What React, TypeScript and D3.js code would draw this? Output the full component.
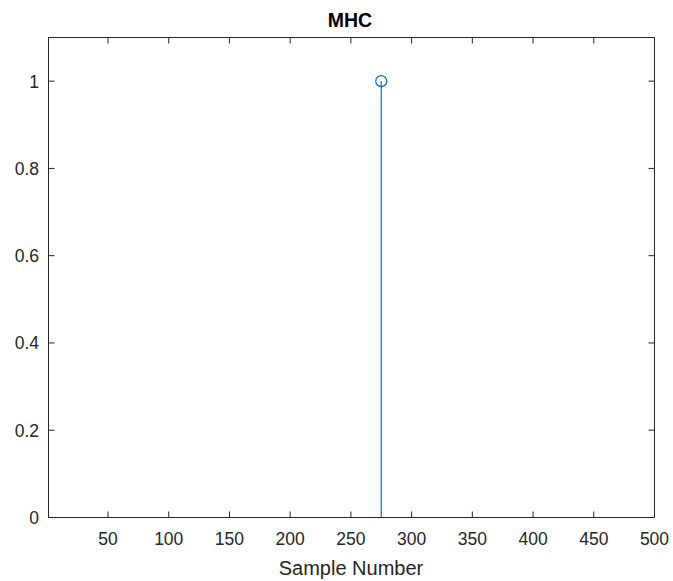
import React from "react";
import * as d3 from "d3";

// Stem plot data: sample index and value
const sampleIndex: number[] = [275];
const sampleValue: number[] = [1];
const xTicks: number[] = [50, 100, 150, 200, 250, 300, 350, 400, 450, 500];
const yTicks: number[] = [0, 0.2, 0.4, 0.6, 0.8, 1];
const titleText = "MHC";
const xLabelText = "Sample Number";

const W = 673;
const H = 581;
const left = 48.5;
const right = 654.5;
const top = 37.5;
const bottom = 517.5;
const axisColor = "#262626";
const stemColor = "#0072BD";
const font = "'Liberation Sans', Arial, Helvetica, sans-serif";

export default function App() {
  const x = d3.scaleLinear().domain([1, 500]).range([left, right]);
  const y = d3.scaleLinear().domain([0, 1.1]).range([bottom, top]);
  const tl = 6;

  return (
    <svg width={W} height={H} style={{ position: "absolute", left: 0, top: 0, background: "#fff" }}>
      <rect x={0} y={0} width={W} height={H} fill="#fff" />
      {/* stems */}
      {sampleIndex.map((s, i) => (
        <g key={i}>
          <line x1={x(s)} x2={x(s)} y1={y(0)} y2={y(sampleValue[i])} stroke={stemColor} strokeWidth={1.2} />
          <circle cx={x(s)} cy={y(sampleValue[i])} r={5.5} fill="none" stroke={stemColor} strokeWidth={1.2} />
        </g>
      ))}
      {/* axes box */}
      <rect x={left} y={top} width={right - left} height={bottom - top} fill="none" stroke={axisColor} strokeWidth={1} />
      {/* x ticks */}
      {xTicks.map((t) => (
        <g key={"x" + t}>
          <line x1={x(t)} x2={x(t)} y1={bottom} y2={bottom - tl} stroke={axisColor} />
          <line x1={x(t)} x2={x(t)} y1={top} y2={top + tl} stroke={axisColor} />
          <text x={x(t)} y={545} textAnchor="middle" fontFamily={font} fontSize={17.5} fill={axisColor}>
            {t}
          </text>
        </g>
      ))}
      {/* y ticks */}
      {yTicks.map((t) => (
        <g key={"y" + t}>
          <line x1={left} x2={left + tl} y1={y(t)} y2={y(t)} stroke={axisColor} />
          <line x1={right} x2={right - tl} y1={y(t)} y2={y(t)} stroke={axisColor} />
          <text x={39} y={y(t) + 6.5} textAnchor="end" fontFamily={font} fontSize={17.5} fill={axisColor}>
            {t}
          </text>
        </g>
      ))}
      {/* labels */}
      <text x={350} y={26.5} textAnchor="middle" fontFamily={font} fontSize={19.5} fontWeight="bold" fill="#000">
        {titleText}
      </text>
      <text x={351} y={575} textAnchor="middle" fontFamily={font} fontSize={20} fill={axisColor}>
        {xLabelText}
      </text>
    </svg>
  );
}
